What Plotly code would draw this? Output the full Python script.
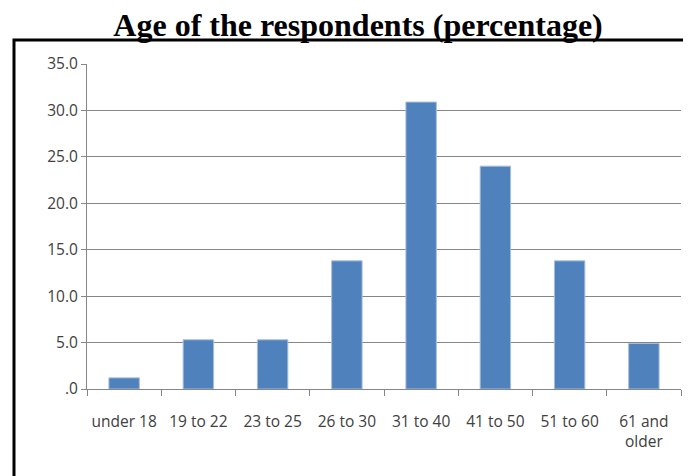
import plotly.graph_objects as go

categories = ["under 18", "19 to 22", "23 to 25", "26 to 30", "31 to 40", "41 to 50", "51 to 60", "61 and<br>older"]
values = [1.2, 5.3, 5.3, 13.8, 30.9, 24.0, 13.8, 4.9]
y_tick_vals = [0, 5, 10, 15, 20, 25, 30, 35]
y_tick_text = [".0", "5.0", "10.0", "15.0", "20.0", "25.0", "30.0", "35.0"]

fig = go.Figure(go.Bar(
    x=categories, y=values,
    marker=dict(color="#4F81BD", line=dict(color="#A7BFDE", width=1)),
    width=0.41,
))

tick_font = dict(family="Open Sans, Noto Sans, sans-serif", size=15.5, color="#404040")

fig.update_layout(
    width=683, height=468,
    margin=dict(l=79, r=10, t=56, b=87),
    paper_bgcolor="white", plot_bgcolor="white",
    title=dict(text="<b>Age of the respondents (percentage)</b>",
               font=dict(family="Liberation Serif, Times New Roman, serif", size=32, color="black"),
               x=0.5125, xanchor="center", y=0.964, yanchor="middle"),
    showlegend=False,
    xaxis=dict(showline=True, linecolor="#868686", linewidth=1,
               ticks="outside", ticklen=6, tickcolor="#868686", tickson="boundaries",
               tickangle=0, tickfont=tick_font, showgrid=False, automargin=False,
               ticklabelstandoff=18),
    yaxis=dict(range=[0, 35], tickvals=y_tick_vals, ticktext=y_tick_text,
               showline=True, linecolor="#868686", linewidth=1,
               ticks="outside", ticklen=5, tickcolor="#868686",
               showgrid=True, gridcolor="#868686", gridwidth=1,
               tickfont=tick_font, zeroline=False, automargin=False),
    shapes=[dict(type="rect", xref="paper", yref="paper",
                 x0=-0.1229, y0=-0.6, x1=1.3, y1=1.0738,
                 line=dict(color="black", width=3), layer="above")],
)

fig.write_html("out.html")
